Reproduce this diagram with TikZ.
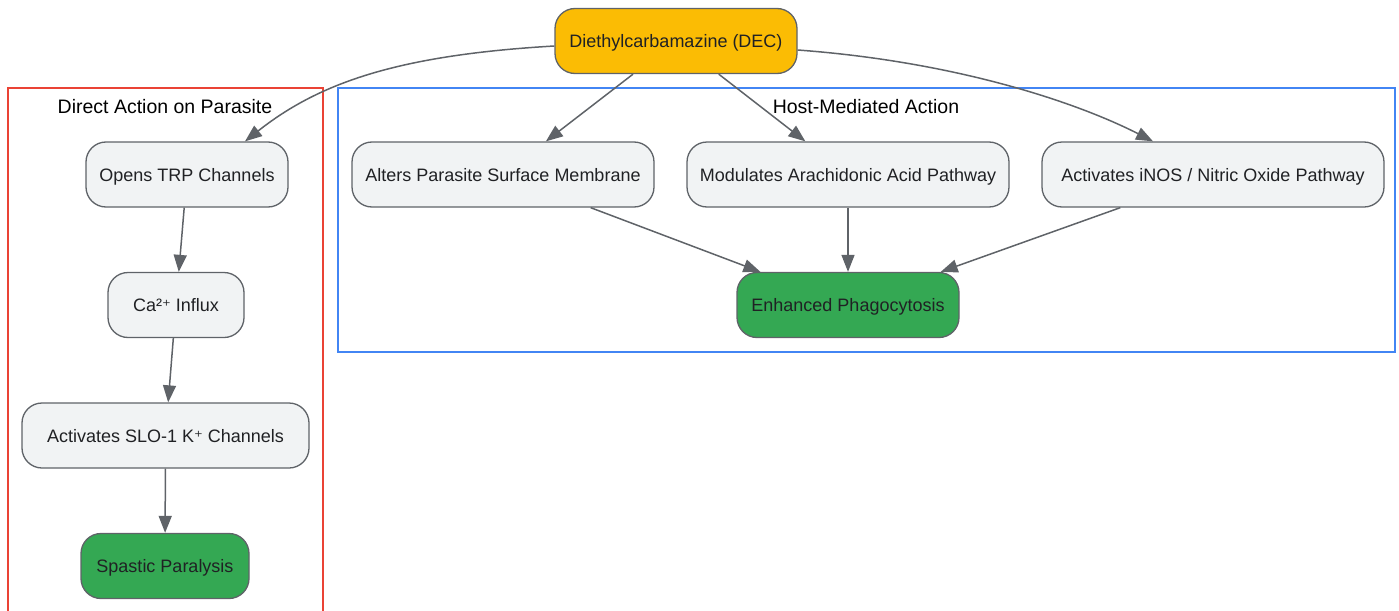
\documentclass[tikz,border=0pt]{standalone}
\usepackage{fontspec}
\setmainfont{Liberation Sans}
\newfontfamily\supfont[Scale=0.92]{DejaVu Sans}
\usepackage{tikz}
\usetikzlibrary{positioning,arrows.meta}

\definecolor{edgegray}{HTML}{5F6368}
\definecolor{boxgray}{HTML}{F1F3F4}
\definecolor{decyellow}{HTML}{FBBC04}
\definecolor{resgreen}{HTML}{34A853}
\definecolor{grpred}{HTML}{EA4335}
\definecolor{grpblue}{HTML}{4285F4}
\definecolor{ink}{HTML}{202124}

\begin{document}
\begin{tikzpicture}
  [
    x=1pt, y=-1pt,
    >={Triangle[length=17pt,width=13pt]},
    box/.style    = {draw=edgegray, fill=boxgray, rounded corners=20pt,
                     line width=1.3pt, minimum height=65pt, inner sep=0pt,
                     text height=13pt, text depth=0pt,
                     text=ink, font=\fontsize{18}{22}\selectfont},
    drug/.style   = {box, fill=decyellow},
    result/.style = {box, fill=resgreen},
    link/.style   = {->, draw=edgegray, line width=1.5pt},
    group/.style  = {line width=1.3pt},
    grouplabel/.style = {font=\fontsize{19.5}{23}\selectfont},
  ]
  \useasboundingbox (0,0) rectangle (1399,610);

  % the two groups
  \draw[group, draw=grpred] (8,615) |- (323,88) -- (323,615);
  \node (directlabel) at (165,107) [grouplabel] {Direct Action on Parasite};
  \draw[group, draw=grpblue] (338,88) rectangle (1395,352);
  \node (hostlabel) at (866,107) [grouplabel] {Host-Mediated Action};

  % the drug
  \node (dec) at (676,41) [drug, minimum width=242pt] {Diethylcarbamazine (DEC)};

  % direct action: a column of steps
  \node (trp) at (187,174.5) [box, minimum width=202pt] {Opens TRP Channels};
  \node (ca) at (176,305) [box, minimum width=136pt] {Ca²{\supfont ⁺} Influx};
  \node (slo) at (165.5,435.5) [box, minimum width=287pt] {Activates SLO-1 K{\supfont ⁺} Channels};
  \node (spastic) at (165,566) [result, minimum width=168pt] {Spastic Paralysis};

  % host-mediated action: three effects, one outcome
  \node (alters) at (503,174.5) [box, minimum width=302pt] {Alters Parasite Surface Membrane};
  \node (arach) at (848,174.5) [box, minimum width=322pt] {Modulates Arachidonic Acid Pathway};
  \node (inos) at (1213,174.5) [box, minimum width=342pt] {Activates iNOS / Nitric Oxide Pathway};
  \node (phago) at (848,305) [result, minimum width=222pt] {Enhanced Phagocytosis};

  % from the drug: two curved, two straight
  \draw[link] ([yshift=-5pt]dec.west)
    .. controls (400,55) and (320,82) .. ([xshift=58pt]trp.north);
  \draw[link] ([yshift=-9pt]dec.east)
    .. controls (960,62) and (1080,104) .. ([xshift=-60pt]inos.north);
  \draw[link] (dec) -- (alters);
  \draw[link] (dec) -- (arach);

  % the chains
  \foreach \from/\to in {trp/ca, ca/slo, slo/spastic,
                         alters/phago, arach/phago, inos/phago}
    \draw[link] (\from) -- (\to);
\end{tikzpicture}
\end{document}
